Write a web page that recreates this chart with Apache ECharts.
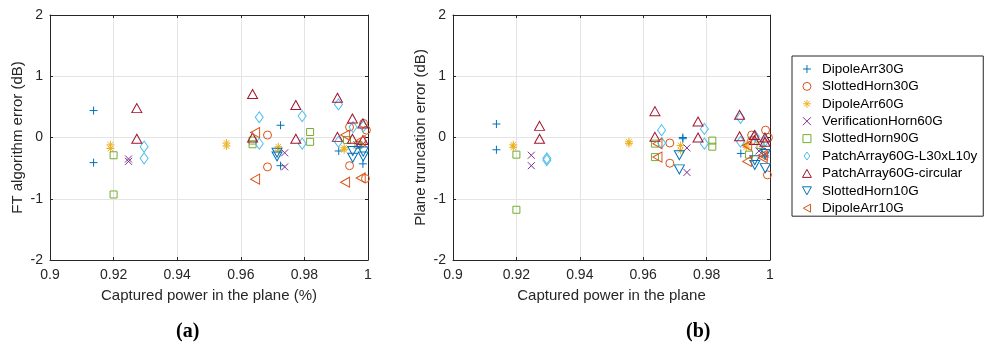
<!DOCTYPE html>
<html>
<head>
<meta charset="utf-8">
<script src="https://cdn.jsdelivr.net/npm/echarts@6/dist/echarts.min.js"></script>
<style>html,body{margin:0;padding:0;background:#fff;}#c{width:986px;height:347px;}</style>
</head>
<body>
<div id="c"></div>
<script>
// ---- data ----
const seriesNames = ['DipoleArr30G','SlottedHorn30G','DipoleArr60G','VerificationHorn60G','SlottedHorn90G','PatchArray60G-L30xL10y','PatchArray60G-circular','SlottedHorn10G','DipoleArr10G'];
const xTicks = [0.9, 0.92, 0.94, 0.96, 0.98, 1];
const yTicks = [-2, -1, 0, 1, 2];

// captured power (x) per series
const dipole30X   = [0.9137, 0.9137, 0.9725, 0.9725, 0.9908, 0.9984, 0.9975];
const slotted30X  = [0.9684, 0.9684, 0.9942, 0.9942, 0.9986, 0.9995, 0.9992];
const dipole60X   = [0.9190, 0.9190, 0.9555, 0.9555, 0.9718, 0.9718, 0.9925, 0.9925];
const verifX      = [0.9247, 0.9247, 0.9738, 0.9738, 0.9965, 0.9985];
const slotted90X  = [0.9200, 0.9200, 0.9637, 0.9637, 0.9818, 0.9818, 0.9934, 0.9970];
const patchLX     = [0.9296, 0.9296, 0.9658, 0.9658, 0.9793, 0.9793, 0.9907, 0.9907, 0.9953, 0.9985];
const patchCX     = [0.9273, 0.9273, 0.9637, 0.9637, 0.9773, 0.9773, 0.9904, 0.9904, 0.9951, 0.9951, 0.9984, 0.9984];
const slotted10X  = [0.9714, 0.9714, 0.9952, 0.9952, 0.9985, 0.9985];
const dipole10X   = [0.9645, 0.9645, 0.9928, 0.9928, 0.9977, 0.9977];

// (a) FT algorithm error (dB)
const dipole30A   = [0.44, -0.41, 0.20, -0.46, -0.22, -0.43, -0.15];
const slotted30A  = [0.04, -0.48, 0.17, -0.46, 0.23, 0.12, -0.67];
const dipole60A   = [-0.12, -0.18, -0.09, -0.14, -0.15, -0.21, -0.17, -0.20];
const verifA      = [-0.35, -0.39, -0.25, -0.48, -0.12, -0.10];
const slotted90A  = [-0.29, -0.93, -0.05, -0.11, 0.09, -0.07, -0.04, -0.12];
const patchLA     = [-0.15, -0.34, 0.33, -0.10, 0.35, -0.10, 0.54, -0.07, 0.17, 0.18];
const patchCA     = [0.48, -0.02, 0.71, 0.00, 0.53, -0.02, 0.65, 0.01, 0.31, -0.02, 0.23, -0.04];
const slotted10A  = [-0.25, -0.31, -0.22, -0.33, -0.23, -0.31];
const dipole10A   = [0.08, -0.68, 0.04, -0.73, -0.05, -0.66];

// (b) Plane truncation error (dB)
const dipole30B   = [0.22, -0.20, 0.00, -0.02, -0.26, -0.30, -0.18];
const slotted30B  = [-0.09, -0.42, 0.04, -0.05, 0.12, 0.00, -0.61];
const dipole60B   = [-0.12, -0.16, -0.07, -0.10, -0.13, -0.21, -0.12, -0.16];
const verifB      = [-0.29, -0.46, -0.17, -0.57, -0.22, -0.27];
const slotted90B  = [-0.28, -1.18, -0.10, -0.32, -0.05, -0.15, -0.28, -0.12];
const patchLB     = [-0.34, -0.37, 0.12, -0.09, 0.14, -0.10, 0.32, -0.07, 0.02, -0.05];
const patchCB     = [0.19, -0.02, 0.43, 0.01, 0.26, 0.00, 0.37, 0.02, 0.04, -0.04, 0.00, -0.07];
const slotted10B  = [-0.29, -0.52, -0.37, -0.45, -0.27, -0.50];
const dipole10B   = [-0.10, -0.32, -0.13, -0.39, -0.29, -0.33];

// ---- styling ----
const colors = ['#0072BD','#D95319','#EDB120','#7E2F8E','#77AC30','#4DBEEE','#A2142F','#0072BD','#D95319'];
const symbols = [
  'path://M5,0L5,10M0,5L10,5',
  'circle',
  'path://M5,0L5,10M0,5L10,5M1.5,1.5L8.5,8.5M8.5,1.5L1.5,8.5',
  'path://M0,0L10,10M10,0L0,10',
  'path://M0,0L10,0L10,10L0,10Z',
  'path://M5,0L10,7L5,14L0,7Z',
  'path://M5,0L10,9L0,9Z',
  'path://M0,0L10,0L5,9Z',
  'path://M9,0L9,10L0,5Z'
];
const sizes = [8, 8, 8, 7, 7, [8,11], [10,9], [10,9], [9,10]];
const xs = [dipole30X, slotted30X, dipole60X, verifX, slotted90X, patchLX, patchCX, slotted10X, dipole10X];
const ysA = [dipole30A, slotted30A, dipole60A, verifA, slotted90A, patchLA, patchCA, slotted10A, dipole10A];
const ysB = [dipole30B, slotted30B, dipole60B, verifB, slotted90B, patchLB, patchCB, slotted10B, dipole10B];

const txt = '#262626';
const font = 'Liberation Sans, Arial, Helvetica, sans-serif';
const gridL = {left: 50, top: 15, width: 318, height: 245};
const gridR = {left: 453, top: 15, width: 317, height: 245};

function xAx(gi, name) {
  return [{
    type: 'value', gridIndex: gi, min: 0.9, max: 1, interval: 0.02,
    name: name, nameLocation: 'middle', nameGap: 28,
    nameTextStyle: {color: txt, fontSize: 15, fontFamily: font},
    axisLine: {show: true, onZero: false, lineStyle: {color: txt, width: 1}},
    axisTick: {show: true, inside: true, length: 3, lineStyle: {color: txt}},
    axisLabel: {color: txt, fontSize: 14, fontFamily: font, margin: 8,
      formatter: v => String(Math.round(v * 100) / 100)},
    splitLine: {show: true, lineStyle: {color: '#e4e4e4', width: 1}}
  }, {
    type: 'value', gridIndex: gi, position: 'top', min: 0.9, max: 1, interval: 0.02,
    axisLine: {show: true, onZero: false, lineStyle: {color: txt, width: 1}},
    axisTick: {show: true, inside: true, length: 3, lineStyle: {color: txt}},
    axisLabel: {show: false}, splitLine: {show: false}
  }];
}
function yAx(gi, name) {
  return [{
    type: 'value', gridIndex: gi, min: -2, max: 2, interval: 1,
    name: name, nameLocation: 'middle', nameGap: 25,
    nameTextStyle: {color: txt, fontSize: 15, fontFamily: font},
    axisLine: {show: true, onZero: false, lineStyle: {color: txt, width: 1}},
    axisTick: {show: true, inside: true, length: 3, lineStyle: {color: txt}},
    axisLabel: {color: txt, fontSize: 14, fontFamily: font, margin: 7},
    splitLine: {show: true, lineStyle: {color: '#e4e4e4', width: 1}}
  }, {
    type: 'value', gridIndex: gi, position: 'right', min: -2, max: 2, interval: 1,
    axisLine: {show: true, onZero: false, lineStyle: {color: txt, width: 1}},
    axisTick: {show: true, inside: true, length: 3, lineStyle: {color: txt}},
    axisLabel: {show: false}, splitLine: {show: false}
  }];
}

const series = [];
for (let p = 0; p < 2; p++) {
  const ys = p === 0 ? ysA : ysB;
  for (let i = 0; i < seriesNames.length; i++) {
    series.push({
      type: 'scatter', name: seriesNames[i],
      xAxisIndex: p * 2, yAxisIndex: p * 2,
      symbol: symbols[i], symbolSize: sizes[i],
      itemStyle: {color: 'rgba(255,255,255,0)', borderColor: colors[i], borderWidth: 1, opacity: 1},
      emphasis: {disabled: true},
      data: xs[i].map((x, k) => [x, ys[i][k]])
    });
  }
}

const chart = echarts.init(document.getElementById('c'), null, {renderer: 'canvas'});
chart.setOption({
  animation: false,
  backgroundColor: '#fff',
  grid: [gridL, gridR],
  xAxis: [...xAx(0, 'Captured power in the plane (%)'), ...xAx(1, 'Captured power in the plane')],
  yAxis: [...yAx(0, 'FT algorithm error (dB)'), ...yAx(1, 'Plane truncation error (dB)')],
  legend: {
    data: seriesNames, orient: 'vertical', left: 792, top: 56,
    itemWidth: 20, itemHeight: 8, itemGap: 3.4,
    padding: [6, 6, 1, 10],
    borderColor: txt, borderWidth: 1,
    itemStyle: {borderWidth: 1},
    textStyle: {color: '#000', fontSize: 13.5, fontFamily: font},
    selectedMode: false
  },
  graphic: [
    {type: 'text', left: 176, top: 322, style: {text: '(a)', font: 'bold 20px "Liberation Serif", serif', fill: '#000'}},
    {type: 'text', left: 686, top: 322, style: {text: '(b)', font: 'bold 20px "Liberation Serif", serif', fill: '#000'}}
  ],
  series: series
});
</script>
</body>
</html>
